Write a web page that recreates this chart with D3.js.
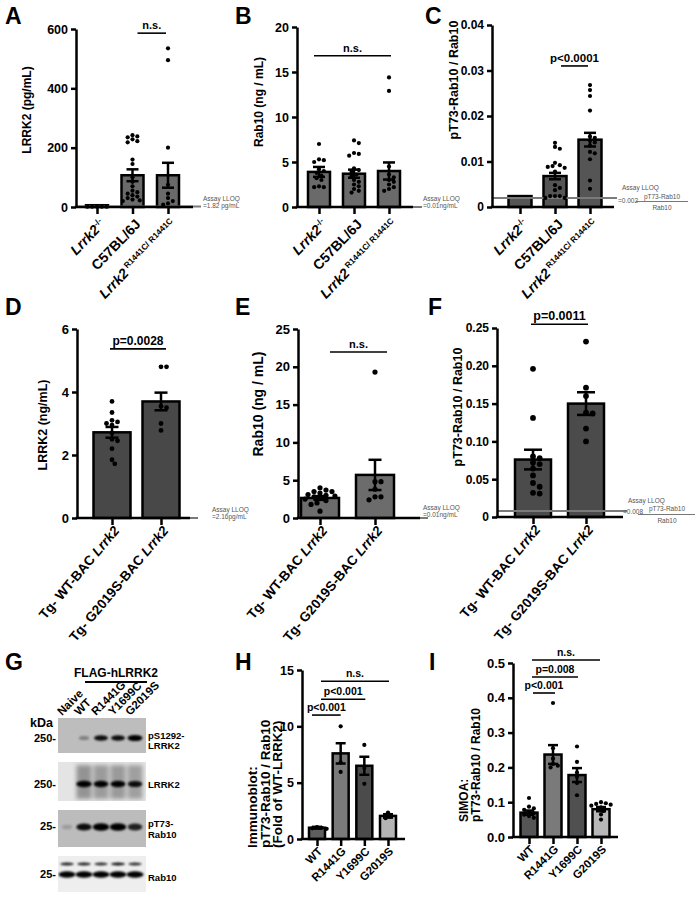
<!DOCTYPE html>
<html>
<head>
<meta charset="utf-8">
<script src="https://cdn.jsdelivr.net/npm/d3@7"></script>
<style>
body { margin: 0; background: #fff; }
text { font-family: "Liberation Sans", Arial, sans-serif; font-weight: bold; }
</style>
</head>
<body>
<svg id="fig" width="699" height="897"></svg>
<script>
// ---------- data ----------
// A-C : mouse genotypes
var lrrk2Mean = [6, 107, 107];
var lrrk2Sem = [0, 20, 42];
var lrrk2Dots = [
  [1, 1, 1, 1, 1],
  [242, 238, 235, 228, 222, 218, 160, 145, 100, 85, 70, 55, 50, 45, 40, 35, 30, 25, 22, 20],
  [535, 495, 200, 75, 45, 30, 20, 12, 8]
];
var rab10Mean = [3.9, 3.7, 4.0];
var rab10Sem = [0.55, 0.45, 0.95];
var rab10Dots = [
  [7.0, 5.3, 5.2, 5.0, 4.2, 4.0, 3.8, 3.5, 3.2, 3.0, 2.3, 2.2, 2.2],
  [7.4, 7.1, 6.0, 5.9, 5.7, 4.3, 4.1, 3.9, 3.6, 3.4, 3.0, 2.8, 2.5, 2.3, 2.0, 1.8, 1.6],
  [14.4, 12.9, 4.5, 3.6, 3.3, 3.0, 2.8, 2.5, 2.2, 2.0, 1.8]
];
var ratioMean = [0.0024, 0.0068, 0.0148];
var ratioSem = [0, 0.0007, 0.0015];
var ratioDots = [
  [],
  [0.0141, 0.0132, 0.0128, 0.0097, 0.0092, 0.0090, 0.0088, 0.0086, 0.0078, 0.0048, 0.0042, 0.0037, 0.0024, 0.0024, 0.0024, 0.0020, 0.0020],
  [0.0268, 0.0257, 0.0244, 0.0212, 0.0155, 0.0152, 0.0146, 0.0142, 0.0135, 0.0121, 0.0118, 0.0105, 0.0058, 0.0040]
];
// D-F : BAC transgenic
var tgLrrk2Mean = [2.72, 3.7];
var tgLrrk2Sem = [0.17, 0.28];
var tgLrrk2Dots = [
  [3.7, 3.35, 3.1, 3.05, 3.0, 2.95, 2.7, 2.5, 2.45, 2.2, 1.85, 1.72],
  [4.8, 4.8, 3.55, 3.5, 3.0, 2.78]
];
var tgRab10Mean = [2.65, 5.7];
var tgRab10Sem = [0.25, 2.0];
var tgRab10Dots = [
  [4.0, 3.7, 3.5, 3.5, 3.3, 3.1, 3.0, 2.9, 2.8, 2.6, 2.5, 2.3, 2.0, 1.8, 0.9],
  [19.3, 4.8, 4.8, 3.8, 2.8, 2.8, 2.4]
];
var tgRatioMean = [0.076, 0.150];
var tgRatioSem = [0.013, 0.015];
var tgRatioDots = [
  [0.196, 0.131, 0.080, 0.078, 0.072, 0.070, 0.064, 0.055, 0.045, 0.040, 0.032, 0.031],
  [0.232, 0.171, 0.160, 0.138, 0.137, 0.117, 0.100]
];
// H-I : cell lines
var mutants = ["WT", "R1441G", "Y1699C", "G2019S"];
var blotMean = [1.0, 7.6, 6.5, 2.05];
var blotSem = [0.08, 0.9, 0.8, 0.15];
var blotDots = [[1.05, 1.0, 0.95, 0.9], [10.0, 6.8, 5.95], [8.35, 6.3, 4.9], [2.35, 2.0, 1.85]];
var simoaMean = [0.070, 0.237, 0.178, 0.080];
var simoaSem = [0.006, 0.027, 0.020, 0.006];
var simoaDots = [
  [0.112, 0.087, 0.082, 0.078, 0.072, 0.068, 0.064, 0.060, 0.055],
  [0.385, 0.255, 0.225, 0.21, 0.205, 0.20],
  [0.26, 0.216, 0.185, 0.173, 0.155, 0.12],
  [0.10, 0.097, 0.095, 0.093, 0.09, 0.085, 0.075, 0.065, 0.05]
];
// G : western blot band intensities per lane
var lanes = ["Naive", "WT", "R1441G", "Y1699C", "G2019S"];
var bandPS1292 = [0.0, 0.3, 0.85, 0.85, 1.0];
var bandLRRK2 = [0.0, 1.0, 0.9, 0.92, 0.85];
var bandPT73 = [0.15, 0.85, 1.0, 1.0, 0.75];
var bandRab10Up = [0.8, 0.8, 0.75, 0.85, 0.75];
var bandRab10Low = [1, 1, 1, 1, 1];

// tick values
var ticksA = [0, 200, 400, 600], ticksB = [0, 5, 10, 15, 20], ticksC = [0, 0.01, 0.02, 0.03, 0.04];
var ticksD = [0, 2, 4, 6], ticksE = [0, 5, 10, 15, 20, 25], ticksF = [0, 0.05, 0.10, 0.15, 0.20, 0.25];
var ticksH = [0, 5, 10, 15], ticksI = [0, 0.1, 0.2, 0.3, 0.4, 0.5];

// x labels (rich text parts)
var labABC = [
  [{t: "Lrrk2", it: 1}, {t: "-/-", sup: 1}],
  [{t: "C57BL/6J"}],
  [{t: "Lrrk2", it: 1}, {t: " R1441C/ R1441C", sup: 1}]
];
var labTg = [
  [{t: "Tg- WT-BAC "}, {t: "Lrrk2", it: 1}],
  [{t: "Tg- G2019S-BAC "}, {t: "Lrrk2", it: 1}]
];
var labMut = mutants.map(function (m) { return [{t: m}]; });

// ---------- drawing ----------
var svg = d3.select("#fig");

function letter(t, x, y) {
  svg.append("text").attr("x", x).attr("y", y).attr("font-size", 23).text(t);
}

function rich(sel, parts, size) {
  parts.forEach(function (p) {
    var ts = sel.append("tspan").text(p.t);
    if (p.it) ts.attr("font-style", "italic");
    if (p.sup) ts.attr("font-size", size * 0.6).attr("dy", -size * 0.38);
  });
}

function swarm(vals, y, cx, r) {
  var pts = vals.map(function (v) { return {v: v, y: y(v)}; })
    .sort(function (a, b) { return a.y - b.y; });
  var placed = [];
  pts.forEach(function (p) {
    var off = 0;
    for (var k = 0; k < 40; k++) {
      off = k === 0 ? 0 : (k % 2 ? 1 : -1) * Math.ceil(k / 2) * r * 1.15;
      var ok = placed.every(function (q) {
        var dx = q.x - (cx + off), dy = q.y - p.y;
        return dx * dx + dy * dy >= 3.6 * r * r;
      });
      if (ok) break;
    }
    p.x = cx + off;
    placed.push(p);
  });
  return placed;
}

function barPanel(c) {
  var g = svg.append("g");
  var y = d3.scaleLinear().domain(c.domain).range([c.yBot, c.yTop]);
  var x = d3.scalePoint().domain(d3.range(c.means.length)).range([c.c0, c.c1]);

  // bars
  g.selectAll("rect.bar").data(c.means).join("rect")
    .attr("x", function (d, i) { return x(i) - c.barW / 2; })
    .attr("width", c.barW)
    .attr("y", function (d) { return y(d); })
    .attr("height", function (d) { return c.yBot - y(d); })
    .attr("fill", function (d, i) { return c.fills[i]; })
    .attr("stroke", "#000").attr("stroke-width", 2.5);

  // assay LLOQ line
  if (c.lloq !== undefined) {
    g.append("line").attr("x1", c.x0).attr("x2", c.x1 + c.lloqExt)
      .attr("y1", y(c.lloq)).attr("y2", y(c.lloq))
      .attr("stroke", "#7a7a7a").attr("stroke-width", 2);
  }

  // dots
  c.dots.forEach(function (vals, i) {
    g.selectAll(null).data(swarm(vals, y, x(i), c.dotR)).join("circle")
      .attr("cx", function (d) { return d.x; })
      .attr("cy", function (d) { return d.y; })
      .attr("r", c.dotR).attr("fill", "#000");
  });

  // error bars (mean +/- sem)
  c.means.forEach(function (m, i) {
    var s = c.sems[i];
    if (!s) return;
    var cx = x(i), cw = c.capW / 2;
    g.append("line").attr("x1", cx).attr("x2", cx).attr("y1", y(m - s)).attr("y2", y(m + s))
      .attr("stroke", "#000").attr("stroke-width", 2.5);
    [m - s, m + s].forEach(function (v) {
      g.append("line").attr("x1", cx - cw).attr("x2", cx + cw).attr("y1", y(v)).attr("y2", y(v))
        .attr("stroke", "#000").attr("stroke-width", 2.5);
    });
  });

  // y axis
  var ya = g.append("g").attr("transform", "translate(" + c.x0 + ",0)")
    .call(d3.axisLeft(y).tickValues(c.ticks).tickSize(5).tickSizeOuter(0).tickFormat(c.fmt));
  ya.select(".domain").attr("stroke-width", 2.5);
  ya.selectAll(".tick line").attr("stroke-width", 2.5);
  ya.selectAll(".tick text").attr("font-size", c.tickSize).attr("font-family", null).attr("x", -8);

  // x axis
  g.append("line").attr("x1", c.x0 - 1.25).attr("x2", c.x1).attr("y1", c.yBot).attr("y2", c.yBot)
    .attr("stroke", "#000").attr("stroke-width", 2.5);
  var xa = g.append("g").attr("transform", "translate(0," + c.yBot + ")")
    .call(d3.axisBottom(x).tickSize(7).tickSizeOuter(0).tickFormat(""));
  xa.select(".domain").remove();
  xa.selectAll(".tick line").attr("stroke-width", 2.5);

  // x labels
  c.labels.forEach(function (parts, i) {
    var t = g.append("text").attr("font-size", c.labSize).attr("text-anchor", "end")
      .attr("transform", "translate(" + (x(i) + c.labDx) + "," + (c.yBot + c.labDy) + ") rotate(" + c.labRot + ")");
    rich(t, parts, c.labSize);
  });

  // y label
  c.ylab.forEach(function (line, k) {
    g.append("text").attr("font-size", c.ylabSize).attr("text-anchor", c.ylabAnchor || "middle")
      .attr("transform", "translate(" + c.ylabX[k] + "," + c.ylabY + ") rotate(-90)")
      .text(line);
  });

  // significance brackets
  c.brackets.forEach(function (b) {
    var yy = y(b.v), xa1 = x(b.a) + b.da, xb = x(b.b) + b.db;
    g.append("line").attr("x1", xa1).attr("x2", xb).attr("y1", yy).attr("y2", yy)
      .attr("stroke", "#000").attr("stroke-width", 1.6);
    g.append("text").attr("x", (xa1 + xb) / 2).attr("y", yy - 4).attr("text-anchor", "middle")
      .attr("font-size", b.size).text(b.label);
  });

  // LLOQ note
  if (c.note) {
    var n = c.note;
    n.lines.forEach(function (l) {
      g.append("text").attr("x", l[0]).attr("y", l[1]).attr("font-size", n.size)
        .style("font-weight", "normal")
        .attr("fill", "#555").attr("text-anchor", l[3] || "start").text(l[2]);
    });
    if (n.frac) {
      g.append("line").attr("x1", n.frac[0]).attr("x2", n.frac[1]).attr("y1", n.frac[2]).attr("y2", n.frac[2])
        .attr("stroke", "#555").attr("stroke-width", 0.8);
    }
  }
}

var fmtInt = d3.format("d");
var fmtC = function (d) { return d === 0 ? "0" : d3.format(".2f")(d); };
var fmtF = function (d) { return d === 0 ? "0" : d3.format(".2f")(d); };
var fmtI = d3.format(".1f");

// Panel A
barPanel({x0: 76, x1: 193, yTop: 29, yBot: 207, domain: [0, 600], ticks: ticksA, fmt: fmtInt, tickSize: 12.5,
  c0: 97, c1: 168, barW: 22, capW: 12, dotR: 2.1, fills: ["#6a6a6a", "#6a6a6a", "#6a6a6a"],
  means: lrrk2Mean, sems: lrrk2Sem, dots: lrrk2Dots, lloq: 1.82, lloqExt: 8,
  labels: labABC, labSize: 14, labDx: 9, labDy: 18, labRot: -46,
  ylab: ["LRRK2 (pg/mL)"], ylabX: [31], ylabY: 110, ylabSize: 12,
  brackets: [{a: 1, b: 2, v: 586, label: "n.s.", da: 5, db: -2, size: 11}],
  note: {size: 6.5, lines: [[203, 201, "Assay LLOQ"], [203, 208, "=1.82 pg/mL"]]}});

// Panel B
barPanel({x0: 297, x1: 413, yTop: 27, yBot: 207, domain: [0, 20], ticks: ticksB, fmt: fmtInt, tickSize: 12.5,
  c0: 319, c1: 389, barW: 22, capW: 12, dotR: 2.1, fills: ["#6a6a6a", "#6a6a6a", "#6a6a6a"],
  means: rab10Mean, sems: rab10Sem, dots: rab10Dots, lloq: 0.01, lloqExt: 9,
  labels: labABC, labSize: 14, labDx: 9, labDy: 18, labRot: -46,
  ylab: ["Rab10 (ng / mL)"], ylabX: [263], ylabY: 102, ylabSize: 12,
  brackets: [{a: 0, b: 2, v: 16.8, label: "n.s.", da: -5, db: 2, size: 11}],
  note: {size: 6.5, lines: [[423, 201, "Assay LLOQ"], [423, 208, "=0.01ng/mL"]]}});

// Panel C
barPanel({x0: 492, x1: 614, yTop: 25, yBot: 207, domain: [0, 0.04], ticks: ticksC, fmt: fmtC, tickSize: 12,
  c0: 520, c1: 590, barW: 23, capW: 12, dotR: 2.1, fills: ["#555", "#555", "#555"],
  means: ratioMean, sems: ratioSem, dots: ratioDots, lloq: 0.002, lloqExt: 3,
  labels: labABC, labSize: 14, labDx: 9, labDy: 18, labRot: -46,
  ylab: ["pT73-Rab10 / Rab10"], ylabX: [458], ylabY: 80, ylabSize: 12.5,
  brackets: [{a: 1, b: 2, v: 0.031, label: "p<0.0001", da: 6, db: -2, size: 11.5}],
  note: {size: 6.5, lines: [[622, 190, "Assay LLOQ"], [618, 203, "=0.002"], [662, 199, "pT73-Rab10", "middle"], [662, 210, "Rab10", "middle"]],
    frac: [636, 688, 201.5]}});

// Panel D
barPanel({x0: 77, x1: 190, yTop: 329, yBot: 518, domain: [0, 6], ticks: ticksD, fmt: fmtInt, tickSize: 13,
  c0: 112, c1: 161, barW: 37, capW: 13, dotR: 2.4, fills: ["#484848", "#484848"],
  means: tgLrrk2Mean, sems: tgLrrk2Sem, dots: tgLrrk2Dots, lloq: 0.00216, lloqExt: 8,
  labels: labTg, labSize: 13.5, labDx: 8, labDy: 13, labRot: -50,
  ylab: ["LRRK2 (ng/mL)"], ylabX: [47], ylabY: 425, ylabSize: 12.5,
  brackets: [{a: 0, b: 1, v: 5.37, label: "p=0.0028", da: -2, db: 5, size: 12}],
  note: {size: 6.5, lines: [[212, 512, "Assay LLOQ"], [212, 519, "=2.16pg/mL"]]}});

// Panel E
barPanel({x0: 298, x1: 420, yTop: 329, yBot: 518, domain: [0, 25], ticks: ticksE, fmt: fmtInt, tickSize: 13,
  c0: 320, c1: 375, barW: 38, capW: 13, dotR: 2.6, fills: ["#6c6c6c", "#6c6c6c"],
  means: tgRab10Mean, sems: tgRab10Sem, dots: tgRab10Dots, lloq: 0.01, lloqExt: 8,
  labels: labTg, labSize: 13.5, labDx: 8, labDy: 13, labRot: -50,
  ylab: ["Rab10 (ng / mL)"], ylabX: [263], ylabY: 404, ylabSize: 14,
  brackets: [{a: 0, b: 1, v: 21.96, label: "n.s.", da: 10, db: 12, size: 11}],
  note: {size: 6.5, lines: [[423, 510, "Assay LLOQ"], [423, 517, "=0.01ng/mL"]]}});

// Panel F
barPanel({x0: 497, x1: 623, yTop: 328, yBot: 517, domain: [0, 0.25], ticks: ticksF, fmt: fmtF, tickSize: 12,
  c0: 533, c1: 586, barW: 36, capW: 18, dotR: 2.9, fills: ["#4b4b4b", "#4b4b4b"],
  means: tgRatioMean, sems: tgRatioSem, dots: tgRatioDots, lloq: 0.008, lloqExt: 4,
  labels: labTg, labSize: 13.5, labDx: 8, labDy: 13, labRot: -50,
  ylab: ["pT73-Rab10 / Rab10"], ylabX: [462], ylabY: 407, ylabSize: 12.5,
  brackets: [{a: 0, b: 1, v: 0.255, label: "p=0.0011", da: -2, db: 2, size: 12.5}],
  note: {size: 6.5, lines: [[628, 503, "Assay LLOQ"], [623, 514, "=0.008"], [667, 510.5, "pT73-Rab10", "middle"], [667, 523, "Rab10", "middle"]],
    frac: [638, 695, 514.5]}});

// Panel H
barPanel({x0: 302, x1: 405, yTop: 670, yBot: 839, domain: [0, 15], ticks: ticksH, fmt: fmtInt, tickSize: 12.5,
  c0: 317, c1: 388, barW: 16, capW: 10, dotR: 2.1, fills: ["#5e5e5e", "#7a7a7a", "#4b4b4b", "#b4b4b4"],
  means: blotMean, sems: blotSem, dots: blotDots,
  labels: labMut, labSize: 11.5, labDx: 6, labDy: 13, labRot: -45,
  ylab: ["Immunoblot:", "pT73-Rab10 / Rab10", "(Fold of WT-LRRK2)"], ylabX: [257, 270, 282], ylabY: 848,
  ylabAnchor: "start", ylabSize: 13.5,
  brackets: [
    {a: 0, b: 3, v: 14.0, label: "n.s.", da: 4, db: 1, size: 10.5},
    {a: 0, b: 2, v: 12.4, label: "p<0.001", da: 4, db: 1, size: 10.5},
    {a: 0, b: 1, v: 11.0, label: "p<0.001", da: -5, db: 0, size: 10.5}
  ]});

// Panel I
barPanel({x0: 513, x1: 618, yTop: 663, yBot: 837, domain: [0, 0.5], ticks: ticksI, fmt: fmtI, tickSize: 13,
  c0: 529, c1: 601, barW: 17, capW: 10, dotR: 2.1, fills: ["#555", "#7a7a7a", "#505050", "#b8b8b8"],
  means: simoaMean, sems: simoaSem, dots: simoaDots,
  labels: labMut, labSize: 11.5, labDx: 6, labDy: 13, labRot: -45,
  ylab: ["SIMOA:", "pT73-Rab10 / Rab10"], ylabX: [468, 480], ylabY: 822, ylabAnchor: "start", ylabSize: 12,
  brackets: [
    {a: 0, b: 3, v: 0.5086, label: "n.s.", da: 3, db: -1, size: 10.5},
    {a: 0, b: 2, v: 0.4598, label: "p=0.008", da: 3, db: 1, size: 10.5},
    {a: 0, b: 1, v: 0.4138, label: "p<0.001", da: 4, db: 2, size: 10.5}
  ]});

// ---------- Panel G : western blot ----------
var defs = svg.append("defs");
defs.append("filter").attr("id", "blur").attr("x", "-50%").attr("y", "-100%").attr("width", "200%").attr("height", "300%")
  .append("feGaussianBlur").attr("stdDeviation", 1.2);
defs.append("filter").attr("id", "blur2").attr("x", "-50%").attr("y", "-100%").attr("width", "200%").attr("height", "300%")
  .append("feGaussianBlur").attr("stdDeviation", 2.2);

var lx = d3.scalePoint().domain(lanes).range([67, 135]);
var blotX0 = 58, blotX1 = 146;
var boxes = [
  {y0: 718, y1: 753, bg: "#bdbdbd", bands: [{vals: bandPS1292, y: 738, h: 5.5, w: 15}], kda: "250-", ky: 742},
  {y0: 762, y1: 801, bg: "#e4e4e4", bands: [{vals: bandLRRK2, y: 784, h: 6, w: 15.5}], smear: true, kda: "250-", ky: 788},
  {y0: 810, y1: 847, bg: "#bcbcbc", bands: [{vals: bandPT73, y: 827, h: 7, w: 16.5}], kda: "25-", ky: 830},
  {y0: 856, y1: 892, bg: "#eeeeee", bands: [{vals: bandRab10Up, y: 864, h: 3, w: 15}, {vals: bandRab10Low, y: 874.5, h: 6, w: 17}], kda: "25-", ky: 878}
];
var gG = svg.append("g");
boxes.forEach(function (b) {
  gG.append("rect").attr("x", blotX0).attr("y", b.y0).attr("width", blotX1 - blotX0).attr("height", b.y1 - b.y0)
    .attr("fill", b.bg);
  var clipId = "clip" + b.y0;
  defs.append("clipPath").attr("id", clipId).append("rect")
    .attr("x", blotX0).attr("y", b.y0).attr("width", blotX1 - blotX0).attr("height", b.y1 - b.y0);
  var inner = gG.append("g").attr("clip-path", "url(#" + clipId + ")");
  if (b.smear) {
    inner.selectAll(null).data(b.bands[0].vals).join("rect")
      .attr("x", function (d, i) { return lx(lanes[i]) - 7.5; })
      .attr("y", b.y0 + 3).attr("width", 15).attr("height", b.y1 - b.y0 - 5)
      .attr("fill", "#000").attr("opacity", function (d) { return d * 0.35; })
      .attr("filter", "url(#blur2)");
  }
  b.bands.forEach(function (band) {
    inner.selectAll(null).data(band.vals).join("ellipse")
      .attr("cx", function (d, i) { return lx(lanes[i]); })
      .attr("cy", band.y)
      .attr("rx", function (d) { return band.w / 2 * (0.55 + 0.45 * d); })
      .attr("ry", function (d) { return band.h / 2 * (0.6 + 0.5 * d); })
      .attr("fill", "#000").attr("opacity", function (d) { return Math.min(1, d * 1.1); })
      .attr("filter", "url(#blur)");
  });
  gG.append("text").attr("x", 56).attr("y", b.ky).attr("text-anchor", "end").attr("font-size", 11).text(b.kda);
});
// lane labels
gG.selectAll(null).data(lanes).join("text")
  .attr("font-size", 11.5)
  .attr("transform", function (d) { return "translate(" + (lx(d) - 5) + ",716) rotate(-45)"; })
  .text(function (d) { return d; });
gG.append("text").attr("x", 116).attr("y", 677).attr("text-anchor", "middle").attr("font-size", 12).text("FLAG-hLRRK2");
gG.append("line").attr("x1", 85).attr("x2", 147).attr("y1", 682).attr("y2", 682).attr("stroke", "#000").attr("stroke-width", 2);
gG.append("text").attr("x", 30).attr("y", 727).attr("font-size", 12.5).text("kDa");
[["pS1292-", 739], ["LRRK2", 749], ["LRRK2", 788], ["pT73-", 827], ["Rab10", 838], ["Rab10", 881]].forEach(function (l) {
  gG.append("text").attr("x", 148).attr("y", l[1]).attr("font-size", 9.5).text(l[0]);
});

// panel letters
letter("A", 5, 24); letter("B", 235, 24); letter("C", 425, 24);
letter("D", 5, 315); letter("E", 235, 315); letter("F", 428, 315);
letter("G", 5, 670); letter("H", 235, 670); letter("I", 429, 670);
</script>
</body>
</html>
